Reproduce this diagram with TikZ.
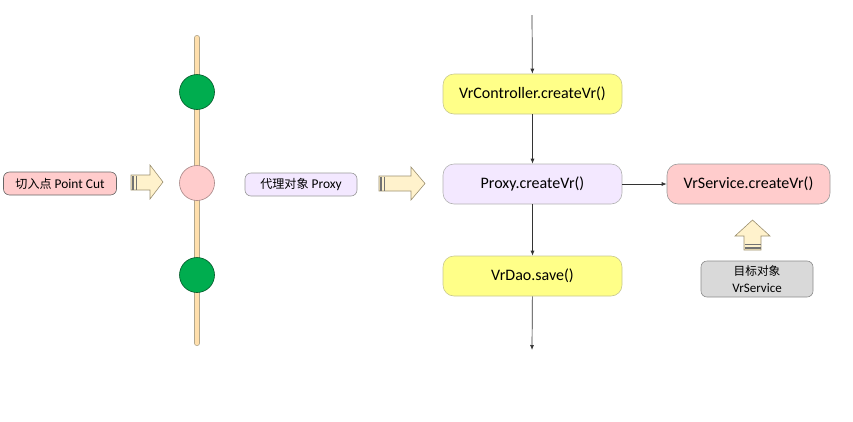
\documentclass[tikz,border=0pt]{standalone}
\usepackage{fontspec}
\setmainfont{Carlito}
\newfontfamily\cjk[Scale=0.9]{Noto Sans CJK SC}
\usetikzlibrary{arrows.meta}
\definecolor{yel}{HTML}{FFFF88}
\definecolor{yelb}{HTML}{C8C890}
\definecolor{pnk}{HTML}{FFCCCC}
\definecolor{lav}{HTML}{F3E8FF}
\definecolor{gry}{HTML}{D9D9D9}
\definecolor{grn}{HTML}{00AD4F}
\definecolor{cream}{HTML}{FFF2CC}
\definecolor{creamb}{HTML}{9C9070}
\tikzset{
  x=1pt,y=-1pt,
  box/.style={rounded corners=11pt,draw=#1,line width=0.6pt,minimum width=179pt,minimum height=40pt,font=\fontsize{16}{18}\selectfont,inner sep=0pt},
  tag/.style={rounded corners=6pt,draw=#1,line width=0.6pt,font=\fontsize{13.4}{15}\selectfont,inner sep=0pt},
  conn/.style={draw=black!80,line width=0.7pt,-{Latex[length=5pt,width=4pt]}},
  blk/.style={fill=cream,draw=creamb,line width=0.6pt},
  stripe/.style={draw=black!55,line width=1.4pt},
}
\begin{document}
\begin{tikzpicture}
\useasboundingbox (0,0) rectangle (853,421);
% left part
\node[tag=black!60,fill=pnk,minimum width=113pt,minimum height=23pt] (pc) at (60,183.5) {{\cjk 切入点} Point Cut};
% block arrow 1
\draw[blk] (131,175) -- (150,175) -- (150,165) -- (163,182) -- (150,199) -- (150,190) -- (131,190) -- cycle;
\draw[stripe] (133,175.5) -- (133,189.5);
\draw[stripe] (136.5,175.5) -- (136.5,189.5);
% bar
\draw[line width=6pt,line cap=round,draw=creamb!80] (197,38) -- (197,343);
\draw[line width=4.6pt,line cap=round,draw=cream!80!orange!90] (197,38) -- (197,343);
\node[circle,minimum size=35pt,fill=grn,draw=black!50!grn,line width=0.6pt,inner sep=0pt] (c1) at (197,92) {};
\node[circle,minimum size=35pt,fill=pnk,draw=black!35!pnk,line width=0.6pt,inner sep=0pt] (c2) at (197,183) {};
\node[circle,minimum size=35pt,fill=grn,draw=black!50!grn,line width=0.6pt,inner sep=0pt] (c3) at (197,275) {};
% proxy tag
\node[tag=black!40,fill=lav,minimum width=112pt,minimum height=23pt] (pt) at (301,184.5) {{\cjk 代理对象} Proxy};
% block arrow 2
\draw[blk] (379,176) -- (411,176) -- (411,167) -- (425,183.5) -- (411,200) -- (411,191) -- (379,191) -- cycle;
\draw[stripe] (381,176.5) -- (381,190.5);
\draw[stripe] (384.5,176.5) -- (384.5,190.5);
% flow
\coordinate (top) at (532,15);
\coordinate (bot) at (532,350);
\node[box=yelb,fill=yel] (ctl) at (532.5,94) {VrController.createVr()};
\node[box=black!30,fill=lav] (prx) at (532.5,184) {Proxy.createVr()};
\node[box=yelb,fill=yel] (dao) at (532.5,276) {VrDao.save()};
\node[box=black!40,fill=pnk,minimum width=163pt] (svc) at (748.5,184) {VrService.createVr()};
\node[tag=black!45,fill=gry,minimum width=112pt,minimum height=36pt,align=center,font=\fontsize{13}{17}\selectfont] (tgt) at (757,279) {{\cjk 目标对象}\\VrService};
\draw[conn] (top) -- (ctl);
\draw[conn] (ctl) -- (prx);
\draw[conn] (prx) -- (dao);
\draw[conn] (dao) -- (bot);
\draw[conn] (prx) -- (svc);
% up block arrow
\draw[blk] (744,250) -- (744,236) -- (735,236) -- (752.5,220) -- (770,236) -- (761,236) -- (761,250) -- cycle;
\draw[stripe] (744.5,248) -- (760.5,248);
\draw[stripe] (744.5,244.5) -- (760.5,244.5);
\end{tikzpicture}
\end{document}
